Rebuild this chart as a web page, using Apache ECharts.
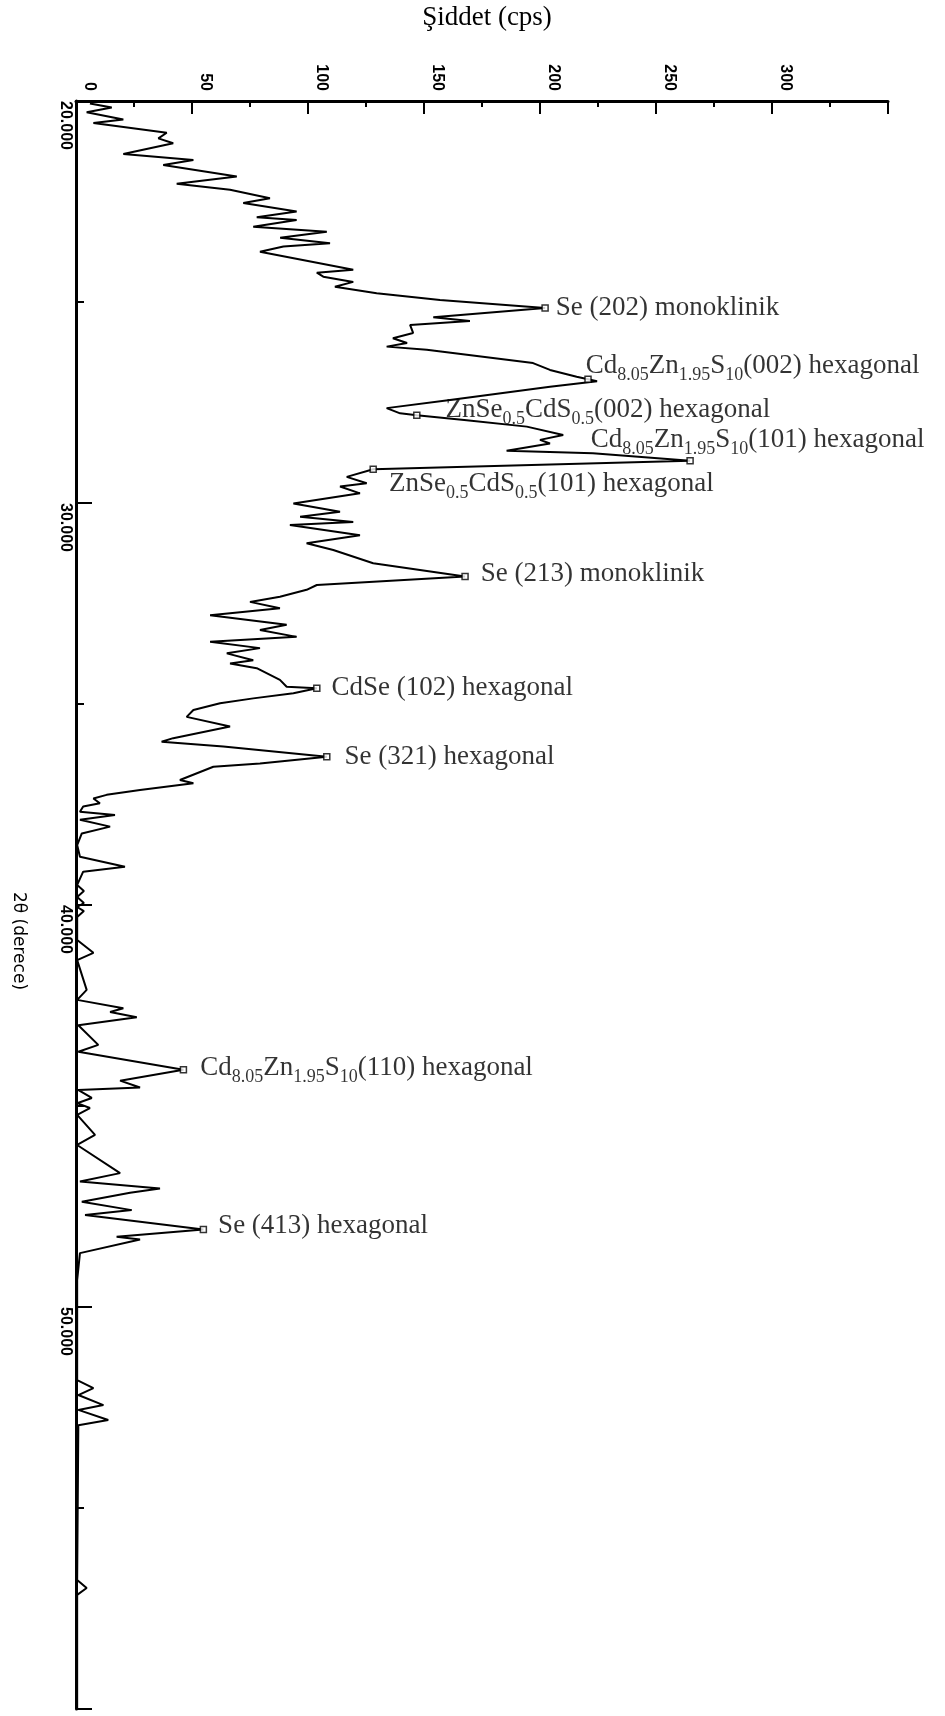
<!DOCTYPE html>
<html>
<head>
<meta charset="utf-8">
<title>XRD</title>
<script src="https://cdn.jsdelivr.net/npm/echarts@6/dist/echarts.min.js"></script>
<style>
  html, body { margin: 0; padding: 0; background: #fff; }
  #chart { width: 945px; height: 1716px; }
</style>
</head>
<body>
<div id="chart"></div>
<script>
// 2θ (derece), read along the trace from the scan
const twoTheta = [
  20.06, 20.16, 20.28, 20.46, 20.55, 20.79, 20.93, 21.05, 21.32, 21.47,
  21.59, 21.88, 22.06, 22.21, 22.42, 22.54, 22.75, 22.89, 22.96, 23.13,
  23.25, 23.40, 23.54, 23.62, 23.75, 24.20, 24.27, 24.37, 24.50, 24.62,
  24.78, 24.95, 25.15, 25.38, 25.47, 25.57, 25.77, 25.90, 26.02, 26.11,
  26.19, 26.52, 26.69, 26.86, 26.92, 26.97, 27.11, 27.44, 27.64, 27.77,
  27.82, 27.94, 28.10, 28.31, 28.43, 28.52, 28.70, 28.76, 28.95, 29.16,
  29.35, 29.51, 29.59, 29.76, 30.01, 30.22, 30.34, 30.47, 30.55, 30.80,
  31.00, 31.17, 31.50, 31.83, 32.04, 32.16, 32.33, 32.46, 32.62, 32.79,
  33.03, 33.16, 33.33, 33.45, 33.61, 33.74, 33.91, 33.99, 34.11, 34.40,
  34.57, 34.61, 34.73, 34.86, 34.98, 35.15, 35.32, 35.56, 35.85, 35.94,
  36.06, 36.31, 36.48, 36.56, 36.89, 36.97, 37.14, 37.26, 37.35, 37.47,
  37.55, 37.68, 37.76, 37.88, 38.05, 38.22, 38.51, 38.80, 39.05, 39.17,
  39.50, 39.65, 39.80, 39.95, 40.05, 40.15, 40.30, 40.87, 41.19, 41.37,
  42.11, 42.36, 42.57, 42.66, 42.79, 42.99, 43.48, 43.65, 44.10, 44.37,
  44.54, 44.60, 44.80, 44.93, 45.05, 45.22, 45.72, 45.97, 46.67, 46.88,
  47.05, 47.16, 47.38, 47.59, 47.71, 48.07, 48.25, 48.32, 48.66, 49.33,
  51.82, 52.02, 52.19, 52.44, 52.56, 52.81, 52.94, 56.79, 56.99, 57.16,
  60.00
];

// Şiddet (cps) at each 2θ above
const intensity = [
  6.0, 15.4, 4.6, 20.4, 7.5, 39.1, 35.5, 41.9, 20.4, 50.6,
  37.6, 69.3, 43.4, 66.4, 83.6, 72.1, 95.1, 77.9, 95.1, 76.4,
  108.1, 88.0, 109.5, 89.4, 79.3, 119.5, 103.8, 106.6, 119.5, 111.6,
  129.6, 156.9, 202.2, 154.0, 169.8, 144.0, 145.3, 136.6, 142.7, 133.9,
  151.2, 197.0, 204.3, 215.8, 220.7, 224.6, 204.3, 161.2, 133.9, 139.7,
  146.9, 168.4, 194.3, 210.0, 200.0, 204.3, 185.6, 222.8, 264.7, 128.1,
  116.7, 125.3, 113.8, 122.4, 93.7, 113.8, 96.6, 119.5, 92.2, 122.4,
  99.4, 110.9, 128.1, 167.7, 103.8, 99.4, 87.9, 75.0, 87.9, 57.8,
  90.8, 79.3, 95.1, 57.8, 79.3, 65.0, 76.4, 66.4, 77.9, 87.9,
  90.8, 103.8, 93.7, 76.4, 62.1, 50.6, 47.7, 66.4, 41.9, 36.9,
  63.5, 108.1, 79.3, 59.2, 44.8, 50.6, 27.6, 13.2, 7.5, 10.3,
  3.1, 1.7, 16.8, 1.7, 14.7, 2.5, 0.5, 1.7, 21.1, 3.1,
  0.5, 3.4, 0.5, 3.4, 0.5, 3.4, 0.5, 0.5, 7.5, 0.5,
  4.6, 0.5, 20.4, 14.7, 26.2, 1.0, 9.6, 1.0, 46.3, 19.0,
  27.6, 0.9, 6.8, 0.5, 6.0, 0.5, 8.2, 0.5, 19.0, 1.7,
  36.2, 23.3, 2.5, 24.0, 3.9, 54.9, 17.5, 27.6, 1.7, 0.5,
  0.5, 7.5, 1.0, 11.8, 1.0, 13.9, 1.0, 0.5, 4.6, 0.5,
  0.5
];

// marked reflections
const peakTheta = [25.15, 26.92, 27.82, 28.95, 29.16, 31.83, 34.61, 36.31, 44.10, 48.07];
const peakIntensity = [202.2, 220.7, 146.9, 264.7, 128.1, 167.7, 103.8, 108.1, 46.3, 54.9];
const peakLabels = [
  '{m|Se (202) monoklinik}',
  '{m|Cd}{s|8.05}{m|Zn}{s|1.95}{m|S}{s|10}{m|(002) hexagonal}',
  '{m|ZnSe}{s|0.5}{m|CdS}{s|0.5}{m|(002) hexagonal}',
  '{m|Cd}{s|8.05}{m|Zn}{s|1.95}{m|S}{s|10}{m|(101) hexagonal}',
  '{m|ZnSe}{s|0.5}{m|CdS}{s|0.5}{m|(101) hexagonal}',
  '{m|Se (213) monoklinik}',
  '{m|CdSe (102) hexagonal}',
  '{m|Se (321) hexagonal}',
  '{m|Cd}{s|8.05}{m|Zn}{s|1.95}{m|S}{s|10}{m|(110) hexagonal}',
  '{m|Se (413) hexagonal}'
];

// where each label sits relative to its marker
const labelOffsets = [
  [2, 0], [-11, -13], [20, -5], [-108, -21], [7, 15],
  [7, -3], [6, 0], [9, 0], [8, -2], [6, -4]
];

const chart = echarts.init(document.getElementById('chart'));

const traceData = twoTheta.map((t, i) => [intensity[i], t]);
const peakData = peakTheta.map((t, i) => ({
  value: [peakIntensity[i], t],
  label: { offset: labelOffsets[i] }
}));

const tickFont = {
  fontFamily: 'Liberation Sans',
  fontWeight: 'bold',
  fontSize: 16,
  color: '#000'
};

const option = {
  animation: false,
  backgroundColor: '#fff',
  grid: {
    left: 76,
    right: 57,
    top: 101,
    bottom: 7,
    containLabel: false,
    outerBoundsMode: 'none'
  },
  xAxis: {
    type: 'value',
    position: 'top',
    min: 0,
    max: 350,
    interval: 50,
    name: 'Şiddet (cps)',
    nameLocation: 'middle',
    nameGap: 83,
    nameMoveOverlap: false,
    nameTextStyle: {
      fontFamily: 'Liberation Serif',
      fontSize: 27,
      color: '#000',
      verticalAlign: 'middle',
      padding: [0, 0, 0, 10]
    },
    axisLine: { onZero: false, lineStyle: { color: '#000', width: 3 } },
    axisTick: { inside: true, length: 13, lineStyle: { color: '#000', width: 2 } },
    minorTick: { show: true, splitNumber: 2, length: 6, lineStyle: { color: '#000', width: 2 } },
    splitLine: { show: false },
    minorSplitLine: { show: false },
    // v6 turns these the other way round on the top axis, so 90 here reads top-to-bottom
    axisLabel: Object.assign({}, tickFont, {
      rotate: 90,
      margin: 10,
      align: 'right',
      verticalAlign: 'bottom',
      padding: [0, 0, 5, 0],
      showMaxLabel: false,
      formatter: v => (v === 350 ? '' : String(v))
    })
  },
  yAxis: {
    type: 'value',
    inverse: true,
    min: 20,
    max: 60,
    interval: 10,
    name: '2θ (derece)',
    nameLocation: 'middle',
    nameGap: 58,
    nameRotate: -90,
    nameMoveOverlap: false,
    nameTextStyle: {
      fontFamily: 'DejaVu Sans',
      fontSize: 17,
      color: '#000',
      align: 'center',
      verticalAlign: 'middle',
      padding: [0, 0, 0, 72]
    },
    axisLine: { onZero: false, lineStyle: { color: '#000', width: 3 } },
    axisTick: { inside: true, length: 16, lineStyle: { color: '#000', width: 2 } },
    minorTick: { show: true, splitNumber: 2, length: 8, lineStyle: { color: '#000', width: 2 } },
    splitLine: { show: false },
    minorSplitLine: { show: false },
    axisLabel: Object.assign({}, tickFont, {
      rotate: -90,
      margin: 3,
      align: 'left',
      verticalAlign: 'top',
      showMaxLabel: false,
      formatter: v => (v === 60 ? '' : v.toFixed(3))
    })
  },
  series: [
    {
      name: 'XRD',
      type: 'line',
      data: traceData,
      showSymbol: false,
      symbol: 'none',
      lineStyle: { color: '#000', width: 2 },
      z: 2
    },
    {
      name: 'peaks',
      type: 'scatter',
      data: peakData,
      symbol: 'rect',
      symbolSize: 6,
      itemStyle: { color: '#fff', borderColor: '#000', borderWidth: 1.5 },
      z: 3,
      label: {
        show: true,
        position: 'right',
        distance: 5,
        formatter: p => peakLabels[p.dataIndex],
        rich: {
          m: { fontFamily: 'Liberation Serif', fontSize: 27, lineHeight: 36, verticalAlign: 'middle', color: '#000' },
          s: { fontFamily: 'Liberation Serif', fontSize: 18, lineHeight: 36, verticalAlign: 'bottom', color: '#000' }
        }
      }
    }
  ]
};

chart.setOption(option);
</script>
</body>
</html>
